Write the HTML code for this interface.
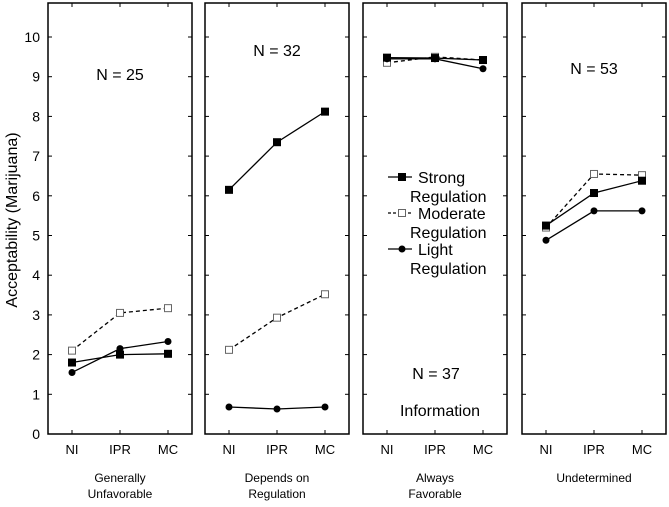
<!DOCTYPE html>
<html><head><meta charset="utf-8"><style>
body{margin:0;background:#fff}
svg text{font-family:"Liberation Sans",Arial,sans-serif;fill:#000}
</style></head><body>
<svg id="c" width="669" height="502" xmlns="http://www.w3.org/2000/svg"></svg>
<script>
const categories=["NI","IPR","MC"];
const groups=["Generally|Unfavorable","Depends on|Regulation","Always|Favorable","Undetermined"];
const strong=[[1.8,2.0,2.02],[6.15,7.35,8.12],[9.48,9.47,9.42],[5.25,6.07,6.38]];
const moderate=[[2.1,3.05,3.17],[2.12,2.93,3.52],[9.35,9.5,9.42],[5.2,6.55,6.52]];
const light=[[1.55,2.15,2.33],[0.68,0.63,0.68],[9.45,9.45,9.2],[4.88,5.62,5.62]];
const yTicks=[0,1,2,3,4,5,6,7,8,9,10];
const NS="http://www.w3.org/2000/svg",svg=document.getElementById('c');
function mk(t,a,txt){const e=document.createElementNS(NS,t);for(const k in a)e.setAttribute(k,a[k]);if(txt!=null)e.textContent=txt;svg.appendChild(e);return e;}
const panelX=[48,205,363,522],PW=144,topY=3,bot=434;
const y=v=>bot-v*39.7;
const x=(p,i)=>panelX[p]+24+i*48;
for(let p=0;p<4;p++){
  const r=mk('rect',{x:panelX[p],y:topY,width:PW,height:bot-topY,fill:'none',stroke:'#000','stroke-width':1.5});
  
  
  yTicks.forEach(v=>{if(v===0)return;mk('line',{x1:panelX[p],x2:panelX[p]+4,y1:y(v),y2:y(v),stroke:'#000'});mk('line',{x1:panelX[p]+PW,x2:panelX[p]+PW-4,y1:y(v),y2:y(v),stroke:'#000'});});
  categories.forEach((c,i)=>{mk('line',{x1:x(p,i),x2:x(p,i),y1:topY,y2:topY+4,stroke:'#000'});mk('line',{x1:x(p,i),x2:x(p,i),y1:bot,y2:bot-4,stroke:'#000'});
    const t=mk('text',{x:x(p,i),y:454,'text-anchor':'middle','font-size':13},c);
    
    });
  const g=groups[p].split('|');
  g.forEach((s,k)=>{const t=mk('text',{x:panelX[p]+PW/2,y:482+k*16,'text-anchor':'middle','font-size':12},s);
    
    });
  const series=[[moderate,'4,3','sq-open'],[strong,'','sq'],[light,'','dot']];
  series.forEach(([d,dash,m])=>{
    const pts=d[p].map((v,i)=>x(p,i)+','+y(v)).join(' ');
    const l=mk('polyline',{points:pts,fill:'none',stroke:'#000','stroke-width':1.3,'stroke-dasharray':dash});
    
    
    d[p].forEach((v,i)=>{let e;
      if(m==='dot')e=mk('circle',{cx:x(p,i),cy:y(v),r:3.5,fill:'#000'});
      else e=mk('rect',{x:x(p,i)-3.5,y:y(v)-3.5,width:7,height:7,fill:m==='sq'?'#000':'#fff',stroke:m==='sq'?'#000':'#666'});
      
      });
  });
}
yTicks.forEach(v=>{const t=mk('text',{x:40,y:y(v)+5,'text-anchor':'end','font-size':14},v);
  
  });
const yt=mk('text',{x:17,y:220,'text-anchor':'middle','font-size':16,transform:'rotate(-90 17 220)'},'Acceptability (Marijuana)');


[[120,80,'N = 25'],[277,56,'N = 32'],[436,379,'N = 37'],[594,74,'N = 53'],[440,416,'Information']].forEach(([a,b,s])=>{const t=mk('text',{x:a,y:b,'text-anchor':'middle','font-size':16},s);
  
  });
const lg=[['Strong','sq',''],['Moderate','sq-open','3,2'],['Light','dot','']];
lg.forEach(([n,m,dash],k)=>{const yy=177+k*36,x0=410;
  mk('line',{x1:x0-22,x2:x0+2,y1:yy,y2:yy,stroke:'#000','stroke-width':1.3,'stroke-dasharray':dash});
  let e;if(m==='dot')e=mk('circle',{cx:x0-8,cy:yy,r:3.5,fill:'#000'});else e=mk('rect',{x:x0-11.5,y:yy-3.5,width:7,height:7,fill:m==='sq'?'#000':'#fff',stroke:m==='sq'?'#000':'#666'});
  
  
  const t1=mk('text',{x:x0+8,y:yy+6,'font-size':16},n);
  
  
  const t2=mk('text',{x:x0,y:yy+25,'font-size':16},'Regulation');
  
  
});
</script>
</body></html>
